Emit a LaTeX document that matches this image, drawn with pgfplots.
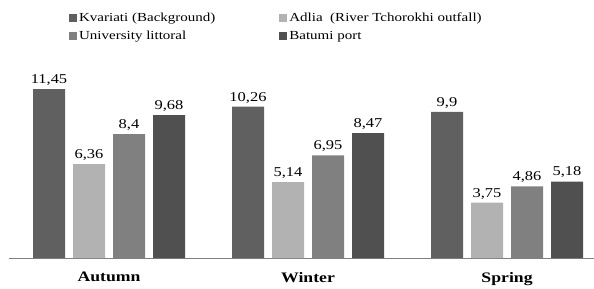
\documentclass[border=0pt]{standalone}
\usepackage{fontspec}
\setmainfont{Liberation Serif}[FakeStretch=1.22]
\usepackage{pgfplots}
\pgfplotsset{compat=1.18}
\definecolor{cA}{HTML}{606060}
\definecolor{cB}{HTML}{B2B2B2}
\definecolor{cC}{HTML}{808080}
\definecolor{cD}{HTML}{505050}
\begin{document}
\begin{tikzpicture}
\begin{axis}[name=ax, at={(0,0)}, anchor=south west,
  scale only axis, width=585bp, height=198bp,
  xmin=-0.5025, xmax=2.437, ymin=0, ymax=13.42,
  enlargelimits=false,
  ybar=8bp, bar width=32bp,
  axis x line=bottom, axis y line=none,
  x axis line style={-, draw=black!50, line width=0.8pt},
  xtick={0,1,2}, xticklabels={Autumn,Winter,Spring}, major tick length=0pt,
  xticklabel style={font=\fontsize{14.5bp}{16bp}\selectfont\bfseries, yshift=-10.5bp},
  nodes near coords,
  nodes near coords style={font=\fontsize{13.5bp}{15bp}\selectfont, /pgf/number format/assume math mode=true, /pgf/number format/use comma, text=black},
  legend columns=2, legend cell align=left,
  legend style={at={(axis description cs:0.0974,1.258)}, anchor=north west, draw=none, fill=none,
    font=\fontsize{12.3bp}{14bp}\selectfont, /tikz/every even column/.append style={column sep=62bp}, row sep=3.5bp},
  legend image code/.code={\fill[#1] (0bp,-4bp) rectangle (8bp,4bp);},
]
\addplot[fill=cA, draw=none] coordinates {(0,11.45) (1,10.26) (2,9.9)};
\addplot[fill=cB, draw=none] coordinates {(0,6.36) (1,5.14) (2,3.75)};
\addplot[fill=cC, draw=none] coordinates {(0,8.4) (1,6.95) (2,4.86)};
\addplot[fill=cD, draw=none] coordinates {(0,9.68) (1,8.47) (2,5.18)};
\legend{Kvariati (Background), Adlia\ \ (River Tchorokhi outfall), University littoral, Batumi port}
\end{axis}
\pgfresetboundingbox
\path[use as bounding box] ([xshift=-9bp,yshift=-31bp]ax.south west) rectangle ++(594bp,289bp);
\end{tikzpicture}
\end{document}
